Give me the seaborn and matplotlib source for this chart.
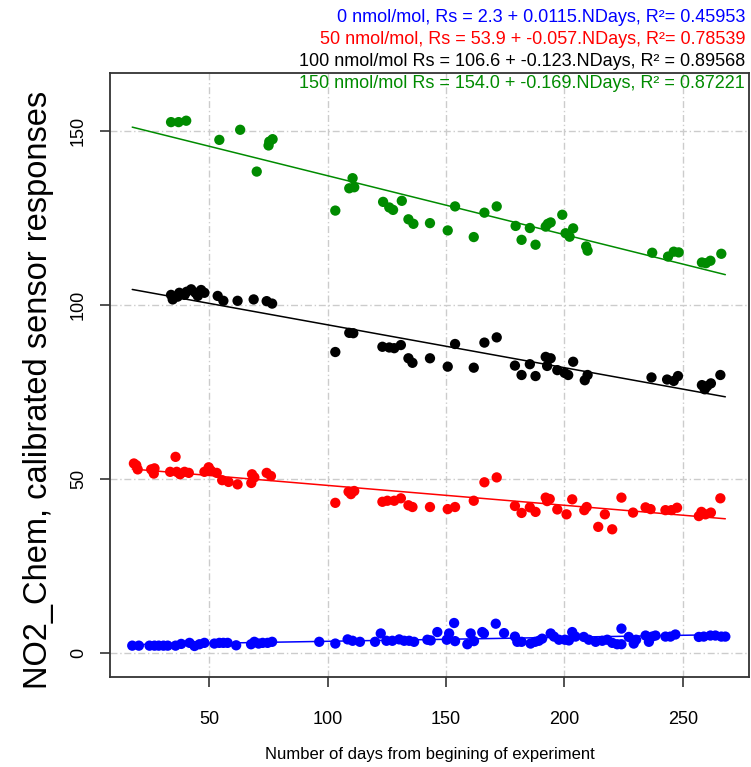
import numpy as np
import pandas as pd
import matplotlib
matplotlib.use("Agg")
import matplotlib.pyplot as plt
import seaborn as sns

# ---------------- data ----------------
levels = ["0", "50", "100", "150"]
colors = ["#0000FF", "#FF0000", "#000000", "#008B00"]

days_0 = [17.4, 20.2, 24.7, 26.8, 28.6, 30.6, 32.4, 35.7, 38.1, 41.6, 43.7, 45.8, 47.9,
          52.1, 54.2, 55.9, 57.7, 61.3, 67.6, 69.0, 70.8, 72.5, 74.6, 76.5, 96.4, 103.2,
          108.4, 110.5, 113.6, 120.0, 122.4, 124.8, 127.3, 130.2, 132.3, 134.4, 136.5,
          142.1, 143.5, 146.3, 150.3, 151.3, 153.4, 153.8, 159.0, 160.4, 161.8, 165.3,
          166.0, 171.0, 174.5, 179.1, 180.1, 181.9, 185.7, 187.6, 189.2, 190.6, 194.2,
          195.6, 197.7, 200.2, 201.9, 203.3, 204.7, 208.2, 210.3, 213.2, 216.0, 218.1,
          220.2, 222.3, 224.1, 224.1, 227.2, 229.3, 230.3, 234.3, 235.7, 237.1, 238.5,
          242.7, 244.8, 246.9, 256.8, 258.9, 261.7, 263.8, 266.3, 268.0]
resp_0 = [2.2, 2.2, 2.2, 2.2, 2.2, 2.2, 2.2, 2.2, 2.7, 3.0, 2.1, 2.6, 3.0,
          2.8, 3.0, 3.0, 3.0, 2.3, 2.6, 3.3, 2.8, 3.0, 3.0, 3.3, 3.3, 2.8,
          4.0, 3.6, 3.3, 3.3, 5.7, 3.6, 3.6, 4.0, 3.6, 3.6, 3.3,
          3.9, 3.7, 6.1, 3.9, 5.7, 8.7, 3.5, 2.6, 5.7, 3.5, 6.1,
          5.7, 8.5, 5.8, 4.8, 3.3, 3.3, 2.8, 3.3, 3.6, 4.2, 5.7,
          4.8, 3.9, 3.9, 3.7, 6.1, 4.8, 4.7, 3.9, 3.3, 3.6, 3.9,
          3.0, 2.6, 2.6, 7.1, 4.7, 2.8, 3.9, 5.1, 3.3, 4.8, 5.1,
          4.8, 4.8, 5.4, 4.7, 4.8, 5.1, 5.1, 4.8, 4.8]

days_50 = [18.1, 19.1, 19.7, 25.4, 26.8, 26.5, 33.4, 35.7, 36.2, 37.6, 39.5, 41.3,
           47.9, 49.7, 50.7, 53.1, 55.4, 58.1, 61.9, 68.0, 67.7, 69.0, 74.2, 76.0,
           103.2, 108.8, 109.8, 111.2, 123.1, 125.2, 128.1, 130.9, 134.1, 135.8, 143.2,
           150.7, 153.8, 161.7, 166.2, 171.4, 179.1, 181.9, 185.4, 187.8, 192.1, 193.8,
           192.7, 197.0, 200.9, 203.3, 208.4, 209.4, 214.3, 217.1, 220.2, 224.1, 229.0,
           234.3, 236.4, 242.7, 245.2, 247.6, 256.8, 257.9, 259.6, 261.9, 265.9]
resp_50 = [54.5, 54.0, 52.8, 52.8, 53.1, 51.6, 52.1, 56.4, 52.1, 51.4, 52.1, 51.8,
           52.1, 53.4, 52.4, 51.8, 49.7, 49.2, 48.5, 51.4, 48.9, 50.5, 51.8, 50.9,
           43.2, 46.4, 45.7, 46.6, 43.5, 43.8, 43.8, 44.5, 42.5, 42.0, 42.0,
           41.4, 42.0, 43.8, 49.1, 50.5, 42.3, 40.3, 41.9, 40.6, 44.7, 44.3,
           43.7, 41.3, 39.9, 44.2, 41.1, 42.0, 36.3, 39.9, 35.6, 44.7, 40.4,
           41.9, 41.4, 41.1, 41.1, 41.8, 39.4, 40.6, 39.9, 40.4, 44.5]

days_100 = [33.8, 34.5, 36.6, 37.3, 39.5, 40.4, 42.3, 44.1, 45.1, 46.5, 47.9, 53.5,
            55.9, 61.9, 68.7, 74.2, 76.5, 103.2, 109.1, 110.8, 123.1, 126.0, 128.1,
            130.9, 134.1, 135.8, 143.2, 150.7, 153.8, 161.7, 166.2, 171.4, 179.1, 181.9,
            185.4, 187.8, 192.1, 194.2, 192.7, 197.0, 200.1, 201.6, 203.7, 208.6, 209.8,
            236.8, 243.4, 246.2, 248.0, 258.1, 259.3, 260.3, 261.9, 265.9]
resp_100 = [102.9, 101.6, 102.4, 103.5, 102.9, 103.8, 104.5, 103.5, 102.6, 104.3, 103.5, 102.6,
            101.2, 101.2, 101.6, 101.1, 100.4, 86.5, 92.0, 91.9, 88.0, 87.8, 87.6,
            88.5, 84.7, 83.4, 84.7, 82.3, 88.8, 82.0, 89.2, 90.7, 82.6, 79.9,
            83.0, 79.6, 85.1, 84.7, 82.5, 81.3, 80.5, 79.9, 83.7, 78.4, 79.9,
            79.2, 78.6, 78.2, 79.6, 77.0, 75.8, 76.7, 77.5, 79.9]

days_150 = [33.8, 37.0, 40.2, 54.2, 63.0, 70.0, 75.0, 75.3, 76.7, 103.2, 109.1, 110.5,
            111.2, 123.4, 126.0, 127.6, 131.3, 134.1, 136.2, 143.2, 150.7, 153.8, 161.7,
            166.2, 171.4, 179.4, 181.9, 185.4, 187.8, 192.1, 193.0, 194.2, 199.1, 200.5,
            202.2, 203.7, 209.2, 209.8, 237.1, 243.8, 246.2, 248.3, 258.1, 259.8, 261.7, 266.3]
resp_150 = [152.5, 152.5, 152.9, 147.4, 150.3, 138.3, 145.8, 146.9, 147.6, 127.1, 133.5, 136.4,
            133.8, 129.6, 128.0, 127.3, 129.9, 124.6, 123.3, 123.5, 121.4, 128.3, 119.5,
            126.5, 128.3, 122.7, 118.7, 122.1, 117.3, 122.5, 123.3, 123.7, 125.9, 120.6,
            119.6, 122.0, 116.8, 115.6, 115.0, 113.9, 115.3, 115.1, 112.2, 112.0, 112.7, 114.7]

intercepts = [2.3, 53.9, 106.6, 154.0]
slopes = [0.0115, -0.057, -0.123, -0.169]
legend_lines = [
    "0 nmol/mol, Rs = 2.3 + 0.0115.NDays, R\u00b2= 0.45953",
    "50 nmol/mol, Rs = 53.9 + -0.057.NDays, R\u00b2= 0.78539",
    "100 nmol/mol Rs = 106.6 + -0.123.NDays, R\u00b2 = 0.89568",
    "150 nmol/mol Rs = 154.0 + -0.169.NDays, R\u00b2 = 0.87221",
]
x_ticks = [50, 100, 150, 200, 250]
y_ticks = [0, 50, 100, 150]

# ---------------- build frames ----------------
all_days = [days_0, days_50, days_100, days_150]
all_resp = [resp_0, resp_50, resp_100, resp_150]
pts = pd.concat([pd.DataFrame({"days": d, "resp": r, "level": lv})
                 for d, r, lv in zip(all_days, all_resp, levels)], ignore_index=True)
xmin = min(min(d) for d in all_days)
xmax = max(max(d) for d in all_days)
xs = np.array([xmin, xmax])
fits = pd.concat([pd.DataFrame({"days": xs, "resp": a + b * xs, "level": lv})
                  for a, b, lv in zip(intercepts, slopes, levels)], ignore_index=True)
palette = dict(zip(levels, colors))

# ---------------- plot ----------------
sns.set_style("white")
plt.rcParams["font.family"] = ["Liberation Sans", "DejaVu Sans"]
plt.rcParams["text.color"] = "black"
plt.rcParams["axes.labelcolor"] = "black"
plt.rcParams["xtick.color"] = "black"
plt.rcParams["ytick.color"] = "black"

fig = plt.figure(figsize=(7.51, 7.67), dpi=100)
ax = fig.add_axes([110 / 751, 90 / 767, 639 / 751, 604 / 767])

ax.grid(True, color="#cccccc", linestyle=(0, (5, 2, 1, 2)), linewidth=1.0)
ax.set_axisbelow(True)

sns.lineplot(data=fits, x="days", y="resp", hue="level", palette=palette,
             linewidth=1.1, legend=False, ax=ax, zorder=2)
sns.scatterplot(data=pts, x="days", y="resp", hue="level", palette=palette,
                s=55, linewidth=0, legend=False, ax=ax, zorder=3)

ax.set_xlim(8, 278)
ax.set_ylim(-6.8, 166.6)
ax.set_xticks(x_ticks)
ax.set_yticks(y_ticks)
ax.set_xticklabels([str(t) for t in x_ticks], fontsize=13)
ax.set_yticklabels([str(t) for t in y_ticks], fontsize=13, rotation=90, va="center")
ax.tick_params(axis="both", direction="out", length=7.5, width=1.2, color="#333333",
               labelcolor="black", left=True, bottom=True)
ax.tick_params(axis="x", pad=17)
ax.tick_params(axis="y", pad=9)
for sp in ax.spines.values():
    sp.set_visible(True)
    sp.set_color("#333333")
    sp.set_linewidth(1.3)

ax.set_xlabel("Number of days from begining of experiment", fontsize=12, labelpad=14,
              color="black")
ax.set_ylabel("NO2_Chem, calibrated sensor responses", fontsize=23.5, labelpad=10,
              color="black")
ax.yaxis.set_label_coords(-0.087, 0.475)

for i, (txt, c) in enumerate(zip(legend_lines, colors)):
    fig.text(745 / 751, 1 - (18 + 22 * i) / 767, txt, color=c, fontsize=13,
             ha="right", va="center")

fig.savefig("out.png", dpi=100)
